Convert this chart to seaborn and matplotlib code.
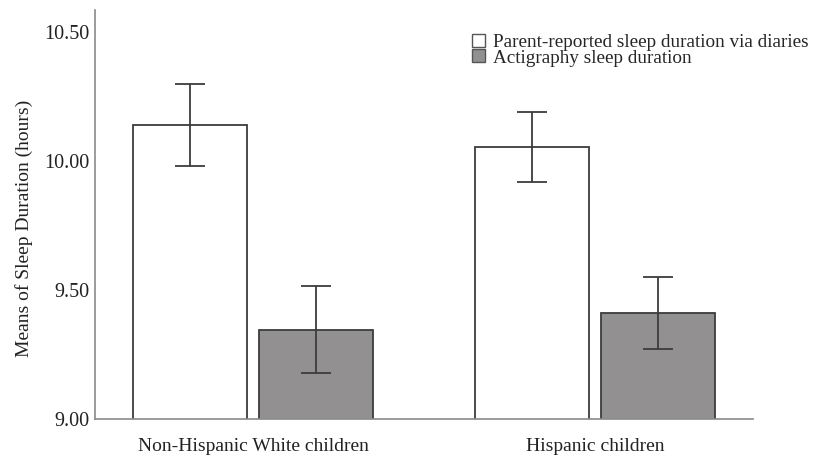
import numpy as np
import pandas as pd
import matplotlib
matplotlib.use("Agg")
import matplotlib.pyplot as plt
import seaborn as sns
from matplotlib.ticker import FormatStrFormatter

groups = ["Non-Hispanic White children", "Hispanic children"]
measures = ["Parent-reported sleep duration via diaries", "Actigraphy sleep duration"]
means = {
    "Parent-reported sleep duration via diaries": [10.14, 10.055],
    "Actigraphy sleep duration": [9.345, 9.41],
}
ci_low = {
    "Parent-reported sleep duration via diaries": [9.98, 9.92],
    "Actigraphy sleep duration": [9.18, 9.27],
}
ci_high = {
    "Parent-reported sleep duration via diaries": [10.30, 10.19],
    "Actigraphy sleep duration": [9.515, 9.55],
}
y_ticks = [9.00, 9.50, 10.00, 10.50]

rows = []
for m in measures:
    for i, g in enumerate(groups):
        rows.append({"Group": g, "Measure": m, "Mean": means[m][i],
                     "Low": ci_low[m][i], "High": ci_high[m][i]})
df = pd.DataFrame(rows)

sns.set_style("white")
plt.rcParams["font.family"] = ["Liberation Serif", "DejaVu Serif"]

fig = plt.figure(figsize=(8.17, 4.63), dpi=100)
ax = fig.add_axes([95 / 817, 1 - 419 / 463, (753 - 95) / 817, (419 - 10) / 463])

palette = {measures[0]: "#ffffff", measures[1]: "#939091"}
sns.barplot(data=df, x="Group", y="Mean", hue="Measure", hue_order=measures,
            order=groups, palette=palette, width=0.737, gap=0.095,
            edgecolor="#3c3c3c", linewidth=1.3, ax=ax, legend=True)

# error bars at the bar centres
for container, m in zip(ax.containers, measures):
    sub = df[df["Measure"] == m].set_index("Group").loc[groups]
    xs = [p.get_x() + p.get_width() / 2 for p in container.patches]
    ax.errorbar(xs, sub["Mean"], yerr=[sub["Mean"] - sub["Low"], sub["High"] - sub["Mean"]],
                fmt="none", ecolor="#3c3c3c", elinewidth=1.3, capsize=11, capthick=1.3)

ax.set_ylim(9.0, 10.585)
ax.set_xlim(-0.462, 1.462)
ax.set_yticks(y_ticks)
ax.yaxis.set_major_formatter(FormatStrFormatter("%.2f"))
ax.tick_params(axis="both", length=0, colors="#222222")
ax.tick_params(axis="x", pad=14, labelsize=14)
ax.tick_params(axis="y", pad=4, labelsize=14.5)
ax.set_xlabel("")
ax.set_ylabel("Means of Sleep Duration (hours)", fontsize=14, color="#222222")
ax.yaxis.set_label_coords(-0.094, 0.467)

for s in ["top", "right"]:
    ax.spines[s].set_visible(False)
for s in ["left", "bottom"]:
    ax.spines[s].set_color("#8a8a8a")
    ax.spines[s].set_linewidth(1.2)

leg = ax.legend(loc="upper left", bbox_to_anchor=(0.573, 0.942), frameon=False,
                fontsize=13.8, handlelength=0.67, handleheight=0.67,
                handletextpad=0.4, labelspacing=-0.08, borderpad=0, borderaxespad=0)
for h in leg.legend_handles:
    h.set_edgecolor("#555555")
    h.set_linewidth(1.0)

fig.savefig("out.png", dpi=100)
